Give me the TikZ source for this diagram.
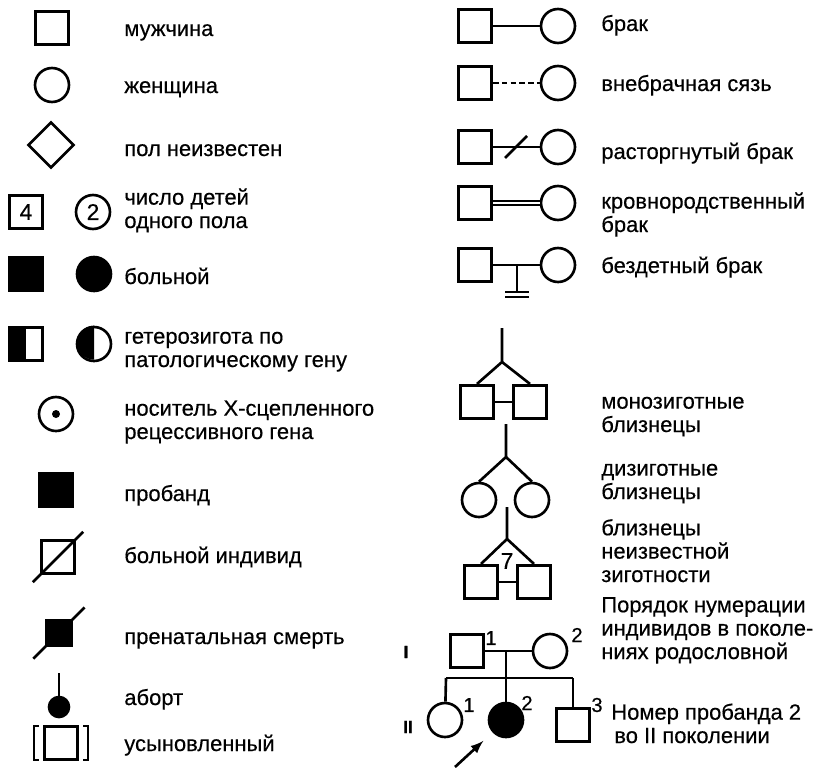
\documentclass[tikz,border=0pt]{standalone}
\usepackage{fontspec}
\setmainfont[FakeBold=0.4]{Liberation Sans}
\usetikzlibrary{shapes.geometric}

\begin{document}
\begin{tikzpicture}[x=0.02cm, y=-0.02cm, line width=1.5pt, >=latex,
    sq/.style={draw, rectangle, minimum size=0.67cm, inner sep=0pt},
    ci/.style={draw, circle, minimum size=0.68cm, inner sep=0pt},
    dia/.style={draw, diamond, aspect=1, minimum size=0.92cm, inner sep=0pt},
    lbl/.style={anchor=base west, align=left, inner sep=0pt, font=\fontsize{12.5}{13.3}\selectfont},
    num/.style={inner sep=0pt, font=\fontsize{11.5}{12}\selectfont}]
  \useasboundingbox (0,0) rectangle (820,767);

  % left column
  \node[sq] (M) at (52,28) {};
  \node[lbl] (tM) at (123,36) {мужчина};
  \node[ci] (F) at (52,85) {};
  \node[lbl] (tF) at (123,93) {женщина};
  \node[dia] (U) at (51,145) {};
  \node[lbl] (tU) at (123,156) {пол неизвестен};
  \node[sq, num, font=\fontsize{13}{13}\selectfont] (M4) at (26,212) {4};
  \node[ci, num, font=\fontsize{13}{13}\selectfont] (F2) at (93,212) {2};
  \node[lbl] (tN) at (123,228) {число детей\\одного пола};
  \node[sq, fill] (MA) at (26,274) {};
  \node[ci, fill] (FA) at (94,274) {};
  \node[lbl] (tA) at (123,284) {больной};
  \node[sq] (MH) at (26,344) {};
  \fill (MH.north west) rectangle (MH.south);
  \node[ci] (FH) at (94,344) {};
  \fill (FH.north) arc[start angle=90, end angle=270, radius=0.34cm] -- cycle;
  \node[lbl] (tH) at (123,367) {гетерозигота по\\патологическому гену};
  \node[ci] (FX) at (56,414) {};
  \fill (FX) circle[radius=0.08cm];
  \node[lbl] (tX) at (123,439) {носитель X-сцепленного\\рецессивного гена};
  \node[sq, fill] (P) at (56,490) {};
  \node[lbl] (tP) at (123,501) {пробанд};
  \node[sq] (D) at (58,557) {};
  \draw[shorten <=-0.2cm, shorten >=-0.2cm] (D.south west) -- (D.north east);
  \node[lbl] (tD) at (123,563) {больной индивид};
  \node[sq, fill, minimum size=0.52cm] (PD) at (59,633) {};
  \draw[shorten <=-0.32cm, shorten >=-0.32cm] (PD.south west) -- (PD.north east);
  \node[lbl] (tPD) at (123,644) {пренатальная смерть};
  \coordinate (ab) at (59,673);
  \node[ci, fill, minimum size=0.4cm] (AB) at (59,707) {};
  \draw (ab) -- (AB);
  \node[lbl] (tAB) at (123,705) {аборт};
  \node[sq] (AD) at (61,743) {};
  \draw[line width=0.9pt] (39,726) -- (34,726) -- (34,760) -- (39,760);
  \draw[line width=0.9pt] (83,726) -- (88,726) -- (88,760) -- (83,760);
  \node[lbl] (tAD) at (123,751) {усыновленный};

  % marriages
  \node[sq] (S1) at (475,26) {};
  \node[ci] (F1) at (558,26) {};
  \draw (S1) -- (F1);
  \node[lbl] (t1) at (600,31) {брак};
  \node[sq] (S2) at (475,83) {};
  \node[ci] (F2) at (558,83) {};
  \draw[dash pattern=on 3.2pt off 1.8pt] (S2) -- (F2);
  \node[lbl] (t2) at (600,91) {внебрачная сязь};
  \node[sq] (S3) at (475,147) {};
  \node[ci] (F3) at (558,147) {};
  \draw (S3) -- (F3);
  \draw (505,158) -- (527,136);
  \node[lbl] (t3) at (600,159) {расторгнутый брак};
  \node[sq] (S4) at (475,203) {};
  \node[ci] (F4) at (558,203) {};
  \draw[double, double distance=1.6pt, line width=1pt] (S4) -- (F4);
  \node[lbl] (t4) at (600,232) {кровнородственный\\брак};
  \node[sq] (S5) at (475,265) {};
  \node[ci] (F5) at (558,265) {};
  \draw (S5) -- (F5);
  \coordinate (c5) at (517,265);
  \coordinate (b5) at (517,292);
  \draw (c5) -- (b5);
  \draw (505,292) -- (529,292);
  \draw (505,297) -- (529,297);
  \node[lbl] (t5) at (600,273) {бездетный брак};

  % twins
  \coordinate (MZo) at (502,328);
  \coordinate (MZt) at (502,362);
  \node[sq] (MZa) at (477,402) {};
  \node[sq] (MZb) at (530,402) {};
  \draw (MZo) -- (MZt) -- (MZa.north);
  \draw (MZt) -- (MZb.north);
  \draw (MZa) -- (MZb);
  \node[lbl] (tMZ) at (600,432) {монозиготные\\близнецы};
  \coordinate (DZo) at (506,424);
  \coordinate (DZt) at (506,457);
  \node[ci] (DZa) at (479,500) {};
  \node[ci] (DZb) at (532,500) {};
  \draw (DZo) -- (DZt) -- (DZa.north);
  \draw (DZt) -- (DZb.north);
  \node[lbl] (tDZ) at (600,499) {дизиготные\\близнецы};
  \coordinate (UZo) at (507,507);
  \coordinate (UZt) at (507,539);
  \node[sq] (UZa) at (481,582) {};
  \node[sq] (UZb) at (534,582) {};
  \draw (UZo) -- (UZt) -- (UZa.north);
  \draw (UZt) -- (UZb.north);
  \draw (UZa) -- (UZb);
  \node[num, font=\fontsize{13}{13}\selectfont] (q) at (507,561) {7};
  \node[lbl] (tUZ) at (600,582) {близнецы\\неизвестной\\зиготности};

  % pedigree
  \node[num, font=\bfseries] (gI) at (406,652) {I};
  \node[sq] (I1) at (467,651) {};
  \node[ci] (I2) at (550,651) {};
  \draw (I1) -- (I2);
  \node[num] (n11) at (491,638) {1};
  \node[num] (n12) at (577,635) {2};
  \coordinate (m) at (506,651);
  \coordinate (s) at (506,678);
  \coordinate (sl) at (446,678);
  \coordinate (sr) at (573,678);
  \draw (m) -- (s);
  \draw (sl) -- (sr);
  \node[ci] (II1) at (445,720) {};
  \node[ci, fill] (II2) at (506,720) {};
  \node[sq] (II3) at (573,725) {};
  \draw (sl) -- (II1);
  \draw (s) -- (II2);
  \draw (sr) -- (II3);
  \node[num] (n21) at (469,705) {1};
  \node[num] (n22) at (527,703) {2};
  \node[num] (n23) at (597,705) {3};
  \node[num, font=\bfseries] (gII) at (408,727) {II};
  \coordinate (arr) at (455,767);
  \draw[->, shorten >=0.25cm] (arr) -- (II2);
  \node[lbl] (tO) at (600,659) {Порядок нумерации\\индивидов в поколе-\\ниях родословной};
  \node[lbl] (tN2) at (610,743) {Номер пробанда 2\\\hspace{0.06cm}во II поколении};
\end{tikzpicture}
\end{document}
